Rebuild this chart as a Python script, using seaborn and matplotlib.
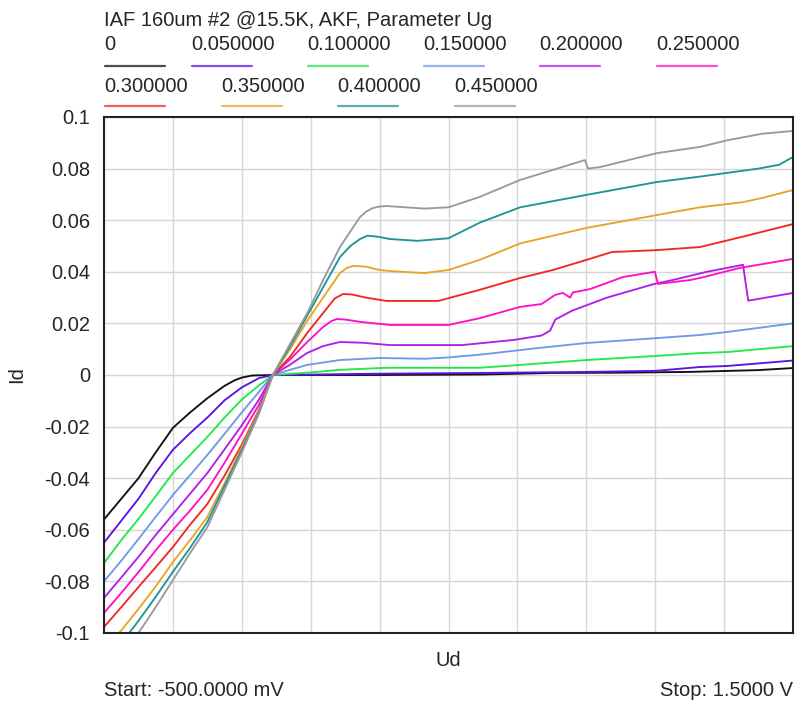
import matplotlib
matplotlib.use("Agg")
import matplotlib.pyplot as plt
from matplotlib.lines import Line2D
import numpy as np
import pandas as pd
import seaborn as sns

# Gate voltage parameter values (legend labels) and trace colours
UG_LABELS = ["0", "0.050000", "0.100000", "0.150000", "0.200000",
             "0.250000", "0.300000", "0.350000", "0.400000", "0.450000"]
COLORS = ["#111111", "#5a14e6", "#22e84a", "#6f9be6", "#b020e8",
          "#ff10c8", "#f02828", "#e8a428", "#1f9595", "#9a9a9a"]

# Drain current Id [A] vs drain voltage Ud [V], one sweep per gate voltage
UD_0 = [-0.5, -0.45, -0.4, -0.35, -0.3, -0.25, -0.2, -0.15, -0.12, -0.1, -0.07, -0.01,
        0.3, 0.6, 0.8, 1.0, 1.2, 1.4, 1.5]
ID_0 = [-0.056, -0.048, -0.040, -0.030, -0.0205, -0.0145, -0.009, -0.0042, -0.002, -0.001, -0.0002, 0.0,
        0.0, 0.0002, 0.0008, 0.0009, 0.0012, 0.0019, 0.0027]

UD_1 = [-0.5, -0.45, -0.4, -0.35, -0.3, -0.25, -0.2, -0.15, -0.1, -0.05, -0.01,
        0.3, 0.6, 0.9, 1.1, 1.23, 1.31, 1.5]
ID_1 = [-0.065, -0.0565, -0.048, -0.038, -0.029, -0.0225, -0.0165, -0.0098, -0.0048, -0.0012, 0.0,
        0.0005, 0.0008, 0.0012, 0.0016, 0.0031, 0.0035, 0.0056]

UD_2 = [-0.5, -0.45, -0.4, -0.35, -0.3, -0.25, -0.2, -0.15, -0.1, -0.05, -0.01,
        0.1, 0.185, 0.32, 0.59, 0.708, 0.9, 1.105, 1.23, 1.31, 1.5]
ID_2 = [-0.0729, -0.064, -0.0558, -0.047, -0.038, -0.031, -0.024, -0.0165, -0.0095, -0.004, 0.0,
        0.001, 0.002, 0.0028, 0.0028, 0.0039, 0.0058, 0.0074, 0.0085, 0.0089, 0.0112]

UD_3 = [-0.5, -0.45, -0.4, -0.35, -0.3, -0.25, -0.2, -0.15, -0.1, -0.05, -0.01,
        0.04, 0.089, 0.185, 0.3, 0.43, 0.5, 0.6, 0.75, 0.9, 1.105, 1.23, 1.31, 1.5]
ID_3 = [-0.080, -0.072, -0.0636, -0.055, -0.0465, -0.0388, -0.031, -0.0228, -0.0145, -0.0065, 0.0,
        0.002, 0.0039, 0.0058, 0.0066, 0.0063, 0.0068, 0.008, 0.0103, 0.0124, 0.0143, 0.0155, 0.0167, 0.020]

UD_4 = [-0.5, -0.45, -0.4, -0.35, -0.3, -0.25, -0.2, -0.15, -0.1, -0.05, -0.01,
        0.04, 0.089, 0.136, 0.185, 0.25, 0.33, 0.54, 0.69, 0.77, 0.795, 0.81, 0.86,
        0.96, 1.095, 1.15, 1.25, 1.355, 1.37, 1.5]
ID_4 = [-0.0864, -0.0785, -0.0705, -0.062, -0.054, -0.046, -0.038, -0.0288, -0.0195, -0.0095, 0.0,
        0.004, 0.0085, 0.0112, 0.0128, 0.0125, 0.0116, 0.0116, 0.0136, 0.0153, 0.0172, 0.0215, 0.025,
        0.030, 0.0352, 0.0368, 0.040, 0.0427, 0.0288, 0.0318]

UD_5 = [-0.5, -0.45, -0.4, -0.35, -0.3, -0.25, -0.2, -0.15, -0.1, -0.05, -0.01,
        0.04, 0.09, 0.136, 0.16, 0.176, 0.2, 0.243, 0.33, 0.5, 0.59, 0.708, 0.77, 0.809, 0.832,
        0.853, 0.861, 0.911, 1.007, 1.099, 1.108, 1.201, 1.23, 1.346, 1.5]
ID_5 = [-0.0922, -0.0845, -0.0764, -0.068, -0.060, -0.0525, -0.0445, -0.034, -0.0228, -0.0115, 0.0,
        0.006, 0.0128, 0.0186, 0.0209, 0.0217, 0.0215, 0.0206, 0.0194, 0.0194, 0.022, 0.0264, 0.0275, 0.031, 0.0318,
        0.030, 0.032, 0.0333, 0.038, 0.040, 0.0353, 0.0368, 0.0376, 0.0415, 0.045]

UD_6 = [-0.5, -0.45, -0.4, -0.35, -0.3, -0.25, -0.2, -0.15, -0.1, -0.05, -0.01,
        0.04, 0.09, 0.136, 0.17, 0.194, 0.22, 0.26, 0.32, 0.47, 0.59, 0.708, 0.803, 0.9, 0.975,
        1.0, 1.105, 1.23, 1.366, 1.5]
ID_6 = [-0.0977, -0.090, -0.0822, -0.0745, -0.0667, -0.058, -0.050, -0.039, -0.027, -0.0135, 0.0,
        0.007, 0.0163, 0.024, 0.0297, 0.0314, 0.0312, 0.030, 0.0287, 0.0287, 0.033, 0.0376, 0.0407, 0.0446, 0.0477,
        0.0478, 0.0484, 0.0496, 0.054, 0.0585]

UD_7 = [-0.5, -0.45, -0.4, -0.35, -0.3, -0.25, -0.2, -0.15, -0.1, -0.05, -0.01,
        0.04, 0.09, 0.136, 0.185, 0.205, 0.223, 0.26, 0.3, 0.33, 0.43, 0.5, 0.59, 0.708,
        0.9, 1.105, 1.23, 1.355, 1.41, 1.5]
ID_7 = [-0.106, -0.099, -0.0907, -0.082, -0.0725, -0.064, -0.055, -0.042, -0.028, -0.014, 0.0,
        0.010, 0.021, 0.030, 0.0395, 0.0415, 0.0423, 0.042, 0.0407, 0.0403, 0.0395, 0.0407, 0.0446, 0.051,
        0.057, 0.062, 0.065, 0.067, 0.0686, 0.0717]

UD_8 = [-0.5, -0.45, -0.4, -0.35, -0.3, -0.25, -0.2, -0.15, -0.1, -0.05, -0.01,
        0.04, 0.09, 0.136, 0.185, 0.215, 0.243, 0.265, 0.3, 0.33, 0.41, 0.5, 0.59, 0.708,
        0.9, 1.105, 1.23, 1.40, 1.46, 1.5]
ID_8 = [-0.112, -0.104, -0.0953, -0.086, -0.0763, -0.067, -0.057, -0.043, -0.029, -0.0145, 0.0,
        0.011, 0.023, 0.034, 0.0457, 0.0500, 0.0527, 0.054, 0.0535, 0.0527, 0.052, 0.053, 0.059, 0.065,
        0.0698, 0.0748, 0.0769, 0.080, 0.0815, 0.0845]

UD_9 = [-0.5, -0.45, -0.4, -0.35, -0.3, -0.25, -0.2, -0.15, -0.1, -0.05, -0.01,
        0.04, 0.09, 0.136, 0.185, 0.243, 0.262, 0.28, 0.3, 0.32, 0.43, 0.5, 0.59, 0.708, 0.803,
        0.896, 0.905, 0.94, 1.105, 1.23, 1.31, 1.41, 1.5]
ID_9 = [-0.118, -0.109, -0.100, -0.090, -0.0795, -0.069, -0.059, -0.0445, -0.030, -0.015, 0.0,
        0.012, 0.024, 0.0368, 0.0496, 0.0612, 0.0634, 0.0647, 0.0653, 0.0655, 0.0645, 0.065, 0.069, 0.0756, 0.0795,
        0.0833, 0.080, 0.0806, 0.086, 0.0884, 0.091, 0.0935, 0.0946]

UD_SERIES = [UD_0, UD_1, UD_2, UD_3, UD_4, UD_5, UD_6, UD_7, UD_8, UD_9]
ID_SERIES = [ID_0, ID_1, ID_2, ID_3, ID_4, ID_5, ID_6, ID_7, ID_8, ID_9]

Y_TICKS = [-0.1, -0.08, -0.06, -0.04, -0.02, 0.0, 0.02, 0.04, 0.06, 0.08, 0.1]
Y_TICK_LABELS = ["-0.1", "-0.08", "-0.06", "-0.04", "-0.02", "0",
                 "0.02", "0.04", "0.06", "0.08", "0.1"]
X_GRID = [-0.5, -0.3, -0.1, 0.1, 0.3, 0.5, 0.7, 0.9, 1.1, 1.3, 1.5]

TITLE = "IAF 160um #2 @15.5K, AKF, Parameter Ug"
START_TEXT = "Start: -500.0000 mV"
STOP_TEXT = "Stop: 1.5000 V"

# long-form table for seaborn
frames = []
for lab, ud, idv in zip(UG_LABELS, UD_SERIES, ID_SERIES):
    frames.append(pd.DataFrame({"Ud": ud, "Id": idv, "Ug": lab}))
df = pd.concat(frames, ignore_index=True)

sns.set_style("white")
plt.rcParams["font.family"] = ["Liberation Sans", "DejaVu Sans"]
FS = 14.5

W, H = 796, 702
fig = plt.figure(figsize=(W / 100, H / 100), dpi=100)
L, R, T, B = 104, 793, 117, 633
ax = fig.add_axes([L / W, 1 - B / H, (R - L) / W, (B - T) / H])

sns.lineplot(data=df, x="Ud", y="Id", hue="Ug", hue_order=UG_LABELS,
             palette=COLORS, estimator=None, sort=False, legend=False,
             linewidth=1.35, ax=ax)

ax.set_xlim(-0.5, 1.5)
ax.set_ylim(-0.1, 0.1)
ax.set_xticks(X_GRID)
ax.set_xticklabels([])
ax.set_yticks(Y_TICKS)
ax.set_yticklabels(Y_TICK_LABELS, fontsize=FS)
ax.tick_params(axis="both", length=0, pad=10)
ax.grid(True, color="#d6d6d6", linewidth=1.0)
ax.set_axisbelow(True)
for s in ax.spines.values():
    s.set_visible(True)
    s.set_color("#222222")
    s.set_linewidth(1.5)

ax.set_xlabel("Ud", fontsize=FS)
ax.set_ylabel("Id", fontsize=FS)
ax.xaxis.set_label_coords((448 - L) / (R - L), (B - 651) / (B - T))
ax.yaxis.set_label_coords((26 - L) / (R - L), 0.5)


def fx(px):
    return px / W


def fy(py):
    return 1 - py / H


fig.text(fx(104), fy(20), TITLE, fontsize=FS, ha="left", va="center")

# legend: label above a short coloured line
LEG_POS = [(104, 0), (191, 0), (307, 0), (423, 0), (539, 0), (656, 0),
           (104, 1), (221, 1), (337, 1), (454, 1)]
ROW_TEXT_Y = [45, 87]
ROW_LINE_Y = [66, 106]
for lab, col, (px, row) in zip(UG_LABELS, COLORS, LEG_POS):
    fig.text(fx(px), fy(ROW_TEXT_Y[row]), lab, fontsize=FS, ha="left", va="center")
    fig.add_artist(Line2D([fx(px + 1), fx(px + 61)], [fy(ROW_LINE_Y[row])] * 2,
                          color=col, linewidth=1.6, alpha=0.75,
                          transform=fig.transFigure))

fig.text(fx(104), fy(690), START_TEXT, fontsize=FS, ha="left", va="center")
fig.text(fx(793), fy(690), STOP_TEXT, fontsize=FS, ha="right", va="center")

fig.savefig("out.png", dpi=100, facecolor="white")
